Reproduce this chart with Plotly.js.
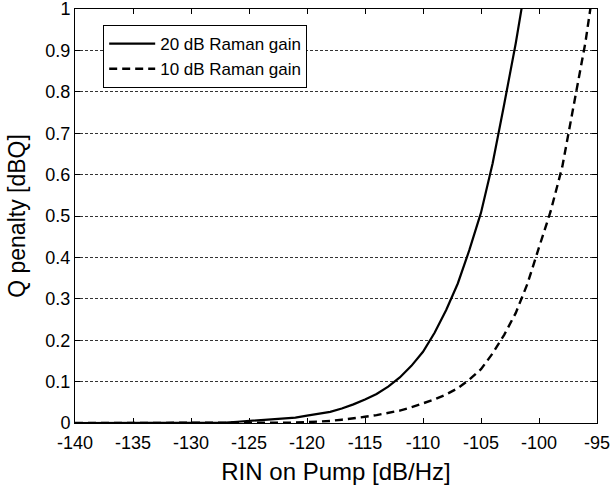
<!DOCTYPE html>
<html>
<head>
<meta charset="utf-8">
<script src="https://cdn.plot.ly/plotly-3.0.1.min.js"></script>
<style>html,body{margin:0;padding:0;background:#fff;}#chart{width:610px;height:487px;}</style>
</head>
<body>
<div id="chart"></div>
<script>
// RIN on pump [dB/Hz]
const rin20 = [-140,-139,-138,-137,-136,-135,-134,-133,-132,-131,-130,-129,-128,-127,-126,-125,-124,-123,-122,-121,-120,-119,-118,-117,-116,-115,-114,-113,-112,-111,-110,-109,-108,-107,-106,-105,-104,-103,-102,-101];
// Q penalty, 20 dB Raman gain [dBQ]
const q20 = [0,0,0,0,0,0,0,0,0,0,0,0,0,0.001,0.003,0.005,0.007,0.009,0.010,0.013,0.018,0.022,0.027,0.035,0.045,0.057,0.070,0.088,0.110,0.138,0.172,0.218,0.273,0.337,0.418,0.508,0.627,0.770,0.918,1.085];
const rin10 = [-140,-139,-138,-137,-136,-135,-134,-133,-132,-131,-130,-129,-128,-127,-126,-125,-124,-123,-122,-121,-120,-119,-118,-117,-116,-115,-114,-113,-112,-111,-110,-109,-108,-107,-106,-105,-104,-103,-102,-101,-100,-99,-98,-97,-96,-95];
// Q penalty, 10 dB Raman gain [dBQ]
const q10 = [0,0,0,0,0,0,0,0,0,0,0,0,0,0,0,0,0,0,0.001,0.001,0.002,0.003,0.005,0.008,0.011,0.015,0.019,0.024,0.030,0.038,0.047,0.057,0.069,0.084,0.105,0.130,0.168,0.213,0.266,0.336,0.424,0.511,0.618,0.764,0.919,1.11];

const seriesNames = ["20 dB Raman gain", "10 dB Raman gain"];
const xTicks = [-140,-135,-130,-125,-120,-115,-110,-105,-100,-95];
const yTicks = [0,0.1,0.2,0.3,0.4,0.5,0.6,0.7,0.8,0.9,1];
const yTickText = ["0","0.1","0.2","0.3","0.4","0.5","0.6","0.7","0.8","0.9","1"];

const font = '"Liberation Sans", Arial, Helvetica, sans-serif';

const traces = [
  {x: rin20, y: q20, name: seriesNames[0], type: 'scatter', mode: 'lines',
   line: {color: '#000', width: 2.2}},
  {x: rin10, y: q10, name: seriesNames[1], type: 'scatter', mode: 'lines',
   line: {color: '#000', width: 2.4, dash: '8px,5px'}}
];

const layout = {
  width: 610, height: 487,
  margin: {l: 75, r: 13, t: 9, b: 64},
  paper_bgcolor: '#fff', plot_bgcolor: '#fff',
  font: {family: font, color: '#000', size: 18},
  showlegend: true,
  legend: {
    x: 0.054, y: 0.961, xanchor: 'left', yanchor: 'top',
    bgcolor: '#fff', bordercolor: '#000', borderwidth: 1,
    font: {family: font, size: 17, color: '#000'},
    itemwidth: 46, tracegroupgap: 0,
    entrywidth: 215, entrywidthmode: 'pixels'
  },
  xaxis: {
    range: [-140, -95], tickvals: xTicks, ticktext: xTicks.map(String),
    ticks: 'inside', ticklen: 5, tickcolor: '#000', tickwidth: 1,
    showline: true, linecolor: '#000', linewidth: 1, mirror: 'ticks',
    showgrid: false, zeroline: false, ticklabelstandoff: 3,
    ticklabeloverflow: 'allow',
    tickfont: {family: font, size: 18, color: '#000'},
    title: {text: 'RIN on Pump [dB/Hz]', font: {family: font, size: 24, color: '#000'}, standoff: 11}
  },
  yaxis: {
    range: [0, 1], tickvals: yTicks, ticktext: yTickText,
    ticks: 'inside', ticklen: 5, tickcolor: '#000', tickwidth: 1,
    showline: true, linecolor: '#000', linewidth: 1, mirror: 'ticks',
    showgrid: true, gridcolor: '#333', gridwidth: 1, griddash: '3px,2px',
    zeroline: false, ticklabeloverflow: 'allow',
    tickfont: {family: font, size: 18, color: '#000'},
    title: {text: 'Q penalty [dBQ]', font: {family: font, size: 23, color: '#000'}, standoff: 13}
  }
};

Plotly.newPlot('chart', traces, layout, {displayModeBar: false, staticPlot: true});
</script>
</body>
</html>
